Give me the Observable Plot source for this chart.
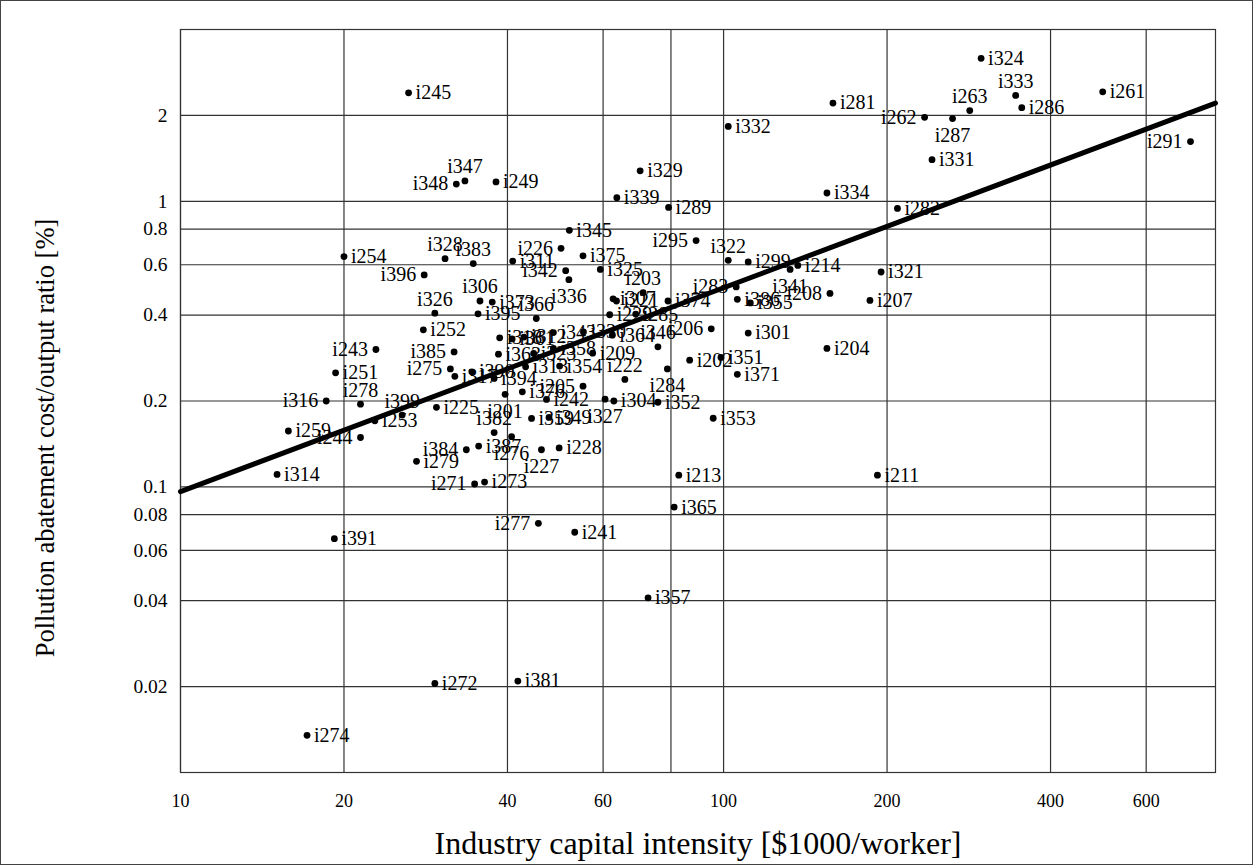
<!DOCTYPE html>
<html><head><meta charset="utf-8">
<script src="https://cdn.jsdelivr.net/npm/d3@7"></script>
<script src="https://cdn.jsdelivr.net/npm/@observablehq/plot@0.6"></script>
<style>
html,body{margin:0;padding:0;background:#fff;}
#chart svg{display:block;outline:1px solid #444;outline-offset:-1px;}
</style></head><body><div id="chart"></div>
<script>
const names = ["i245","i347","i348","i249","i254","i328","i383","i396","i329","i339","i289","i345","i295","i322","i226","i311","i375","i342","i336","i325","i203","i307","i221","i374","i306","i373","i326","i395","i366","i229","i285","i385","i252","i243","i251","i275","i317","i316","i278","i399","i253","i259","i244","i225","i314","i279","i384","i387","i276","i382","i201","i227","i228","i271","i273","i213","i211","i365","i277","i241","i391","i357","i272","i381","i274","i324","i333","i286","i261","i281","i263","i262","i287","i332","i291","i331","i334","i282","i299","i214","i341","i321","i283","i386","i355","i208","i207","i204","i206","i301","i346","i202","i351","i371","i284","i222","i304","i327","i352","i353","i364","i205","i376","i242","i359","i349","i318","i361","i312","i343","i330","i363","i323","i358","i354","i313","i390","i394","i209"];
const capital = [26.3,33.4,32.2,38.1,20.0,30.7,34.6,28.1,70.2,63.6,79.2,52.0,89.0,102,50.2,40.9,55.1,51.2,51.9,59.3,71.1,62.6,63.5,79.0,35.6,37.5,29.4,35.3,45.2,61.7,68.9,31.9,28.0,22.9,19.3,31.4,32.0,18.55,21.45,25.6,22.8,15.8,21.45,29.6,15.06,27.2,33.6,35.4,40.7,37.8,39.6,46.2,49.8,34.8,36.3,82.7,192,81.1,45.6,53.2,19.2,72.6,29.4,41.8,17.1,298,345,354,499,159,284,234.5,264,102,724,242,155,209,111,137,132.6,195,105.5,106,112,157,186,155,94.9,111,75.7,86.6,98.9,106,78.8,65.8,62.8,60.5,75.7,95.7,62.4,55.1,42.6,47.2,44.3,47.7,38.7,40.8,42.9,48.6,55.2,38.5,44.7,48.6,49.9,43.2,34.4,37.8,57.4];
const ratio = [2.40,1.18,1.15,1.17,0.641,0.630,0.606,0.553,1.28,1.03,0.953,0.792,0.729,0.622,0.685,0.618,0.645,0.572,0.532,0.578,0.479,0.456,0.448,0.448,0.448,0.444,0.406,0.404,0.389,0.401,0.403,0.297,0.355,0.303,0.251,0.259,0.244,0.200,0.195,0.1785,0.1705,0.157,0.149,0.190,0.1106,0.123,0.135,0.139,0.150,0.155,0.211,0.135,0.137,0.1024,0.104,0.110,0.110,0.085,0.0746,0.0694,0.0659,0.0409,0.0205,0.0209,0.0135,3.17,2.35,2.13,2.42,2.21,2.08,1.97,1.95,1.83,1.62,1.40,1.07,0.945,0.614,0.597,0.578,0.566,0.502,0.454,0.441,0.476,0.450,0.3055,0.358,0.346,0.3095,0.278,0.284,0.248,0.259,0.238,0.200,0.203,0.198,0.174,0.340,0.2254,0.2154,0.2026,0.1738,0.1752,0.333,0.330,0.335,0.3474,0.349,0.2917,0.2934,0.3055,0.265,0.2634,0.253,0.240,0.294];
const labelSide = ["r","t","l","r","r","t","t","l","r","r","r","r","l","t","l","r","r","l","b","r","t","r","r","r","t","r","t","r","t","r","r","l","r","l","r","l","r","l","t","t","r","r","l","r","r","r","l","r","b","t","b","b","r","l","r","r","r","r","l","r","r","r","r","r","r","r","t","r","r","r","t","l","b","r","l","r","r","r","r","r","b","r","l","r","r","l","r","r","l","r","t","r","r","r","b","t","r","b","r","r","r","l","r","r","r","r","r","r","r","r","r","r","r","r","r","r","r","r","r"];
const fitX = [10, 805];
const fitY = [0.0963, 2.21];
const xTicks = [10,20,40,60,80,100,200,400,600];
const yTicks = [0.02,0.04,0.06,0.08,0.1,0.2,0.4,0.6,0.8,1,2];
const xTitle = "Industry capital intensity [$1000/worker]";
const yTitle = "Pollution abatement cost/output ratio [%]";

const data = names.map((n,i)=>({name:n, x:capital[i], y:ratio[i], side:labelSide[i]}));
const fit = fitX.map((x,i)=>({x, y:fitY[i]}));
const lf = 20;
const labelMarks = [
  Plot.text(data.filter(d=>d.side==="r"), {x:"x", y:"y", text:"name", textAnchor:"start", dx:7, fontSize:lf}),
  Plot.text(data.filter(d=>d.side==="l"), {x:"x", y:"y", text:"name", textAnchor:"end", dx:-8, fontSize:lf}),
  Plot.text(data.filter(d=>d.side==="t"), {x:"x", y:"y", text:"name", textAnchor:"middle", dy:-14, fontSize:lf}),
  Plot.text(data.filter(d=>d.side==="b"), {x:"x", y:"y", text:"name", textAnchor:"middle", dy:17, fontSize:lf})
];

const chart = Plot.plot({
  width:1253, height:865,
  marginLeft:180, marginRight:38, marginTop:29, marginBottom:93,
  style:{fontFamily:"'Liberation Serif','Times New Roman',serif", background:"#fff", color:"#000"},
  x:{type:"log", domain:[10,805]},
  y:{type:"log", domain:[0.01,4]},
  marks:[
    Plot.gridX(xTicks, {stroke:"#333", strokeOpacity:1, strokeWidth:1.2}),
    Plot.gridY(yTicks, {stroke:"#333", strokeOpacity:1, strokeWidth:1.2}),
    Plot.frame({stroke:"#333", strokeWidth:1.2}),
    Plot.line(fit, {x:"x", y:"y", stroke:"#000", strokeWidth:5}),
    ...labelMarks,
    Plot.dot(data, {x:"x", y:"y", r:3.4, fill:"#000", stroke:null}),
    Plot.axisX(xTicks, {tickSize:0, tickPadding:22, fontSize:18, tickFormat:d=>String(d), label:null}),
    Plot.axisY(yTicks, {tickSize:0, tickPadding:13, fontSize:19.5, tickFormat:d=>String(d), label:null}),
    Plot.text([xTitle], {text:d=>d, frameAnchor:"bottom", textAnchor:"middle", lineAnchor:"middle", dy:71, fontSize:32}),
    Plot.text([yTitle], {text:d=>d, frameAnchor:"left", textAnchor:"middle", lineAnchor:"middle", rotate:-90, dx:-135, dy:37, fontSize:26.5})
  ]
});
document.getElementById("chart").appendChild(chart);
</script></body></html>
